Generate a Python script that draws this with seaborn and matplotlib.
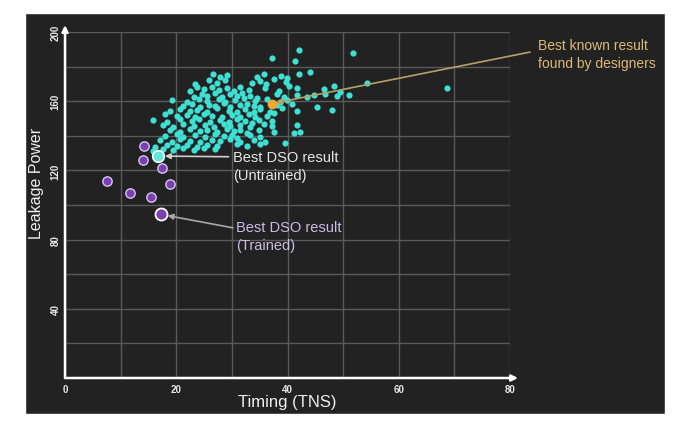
import numpy as np
import pandas as pd
import seaborn as sns
import matplotlib.pyplot as plt
from matplotlib.patches import Rectangle

# DSO runs (untrained): timing (TNS) and leakage power
tns = [
    42.0, 37.2, 41.4, 44.1, 42.0, 51.8, 54.3, 68.7,
    26.6, 27.9, 29.1, 34.5, 35.7, 38.8, 39.9,
    23.4, 25.8, 27.3, 28.8, 33.6, 35.1, 36.2, 37.5, 39.8, 40.2,
    22.5, 23.7, 24.9, 26.4, 27.6, 29.1, 30.3, 31.5, 33.0, 36.0, 38.4, 41.7, 46.5, 48.3, 49.5,
    23.1, 24.6, 25.5, 27.0, 28.2, 29.7, 30.9, 31.8, 33.3, 34.5, 38.1, 39.3, 41.7, 43.5, 44.7, 46.8, 48.9, 51.0,
    19.2, 21.9, 24.0, 25.5, 27.6, 28.8, 30.6, 32.1, 34.2, 36.3, 38.7, 39.9,
    21.3, 22.8, 24.3, 25.8, 27.0, 28.5, 29.7, 31.5, 32.7, 33.9, 35.1, 38.1, 39.0, 40.8, 45.3, 48.0,
    18.9, 20.7, 22.5, 23.7, 25.5, 27.3, 29.4, 30.9, 32.4, 33.9, 35.1, 36.9, 41.7,
    18.0, 20.1, 21.9, 23.4, 24.9, 26.4, 28.2, 30.0, 31.5, 33.0, 34.2, 36.3, 37.5,
    15.9, 18.3, 20.7, 22.8, 24.0, 26.1, 27.9, 29.4, 30.9, 32.4, 33.6, 34.8, 37.2,
    17.7, 19.5, 21.3, 23.1, 25.2, 26.7, 28.5, 29.7, 31.5, 33.3, 35.7, 37.2, 41.7,
    18.9, 20.7, 22.5, 24.3, 25.5, 27.3, 29.1, 30.3, 31.5, 32.7, 34.8, 37.5, 41.1, 42.3,
    18.0, 20.1, 21.3, 23.4, 25.2, 27.0, 28.5, 30.0, 30.9, 33.3, 35.1,
    17.1, 19.2, 20.7, 22.5, 24.3, 26.4, 27.9, 29.7, 31.5, 33.9, 36.0,
    16.2, 18.3, 20.1, 21.9, 23.7, 25.5, 27.3, 30.9, 32.7, 35.1, 39.6,
    15.9, 17.7, 19.5, 21.3, 23.1, 24.9, 27.0,
]
leak = [
    189.7, 184.9, 183.3, 177.1, 175.6, 187.9, 170.5, 167.6,
    175.8, 173.9, 175.3, 174.2, 176.0, 174.6, 173.5,
    170.2, 172.0, 170.8, 172.5, 170.5, 171.9, 169.8, 172.6, 170.9, 168.9,
    166.1, 168.0, 166.8, 168.4, 166.3, 167.7, 165.9, 168.2, 166.6, 167.4, 165.8, 167.9, 167.2, 168.6, 165.4,
    162.7, 164.4, 163.0, 164.8, 162.4, 163.9, 162.9, 164.6, 163.2, 162.1, 164.3, 162.6, 163.8, 162.3, 163.6, 164.1, 162.8, 163.3,
    160.9, 159.8, 161.4, 160.0, 161.1, 159.5, 160.8, 161.6, 159.9, 161.2, 159.6, 160.9,
    157.2, 158.5, 156.9, 158.0, 157.4, 158.9, 156.6, 157.9, 158.6, 157.0, 156.4, 157.8, 156.2, 158.3, 156.8, 155.2,
    154.3, 155.6, 154.1, 155.2, 153.8, 155.9, 154.5, 153.6, 155.4, 154.0, 155.7, 153.9, 154.6,
    152.6, 151.2, 152.3, 150.9, 152.8, 151.5, 150.6, 152.1, 151.0, 152.4, 150.8, 151.7, 152.9,
    149.4, 148.2, 149.6, 148.5, 149.9, 147.9, 149.1, 148.0, 149.8, 148.4, 147.6, 149.3, 148.7,
    146.5, 145.2, 146.8, 145.6, 146.2, 144.9, 146.9, 145.4, 146.4, 145.0, 146.6, 145.8, 146.1,
    143.6, 142.4, 143.9, 142.7, 143.3, 142.1, 143.8, 142.6, 143.4, 141.9, 143.1, 142.2, 141.5, 142.0,
    139.8, 140.9, 139.4, 140.6, 139.1, 140.8, 139.6, 140.3, 139.0, 140.5, 139.5,
    137.8, 136.7, 138.0, 137.0, 136.4, 137.6, 136.9, 137.9, 136.3, 137.4, 136.6,
    133.6, 134.9, 133.9, 134.6, 133.3, 134.8, 134.1, 135.0, 134.3, 135.2, 135.6,
    131.2, 132.4, 131.8, 132.7, 131.6, 132.9, 132.2,
]

# DSO runs (trained)
trained_tns = [14.2, 14.1, 17.5, 7.5, 18.8, 11.7, 15.5]
trained_leak = [134.3, 126.0, 121.2, 113.7, 111.9, 107.1, 104.6]

# highlighted results
best_untrained = (16.7, 128.3)
best_trained = (17.2, 94.6)
best_designer = (37.2, 158.6)

x_ticks = [0, 10, 20, 30, 40, 50, 60, 70, 80]
x_labels = ['0', '', '20', '', '40', '', '60', '', '80']
y_ticks = [0, 20, 40, 60, 80, 100, 120, 140, 160, 180, 200]
y_labels = ['', '', '40', '', '80', '', '120', '', '160', '', '200']

bg = '#222222'
sns.set_theme(style='dark')
plt.rcParams['font.family'] = ['Liberation Sans', 'DejaVu Sans']

fig = plt.figure(figsize=(6.73, 4.27), dpi=100)
fig.patch.set_facecolor('white')
fig.patches.append(Rectangle((25 / 673, 12 / 427), 640 / 673, 401 / 427,
                             transform=fig.transFigure, facecolor=bg, zorder=-1))
ax = fig.add_axes([0.0966, 0.1124, 0.6612, 0.8103])
ax.set_facecolor(bg)

df = pd.DataFrame({'tns': tns, 'leak': leak})
sns.scatterplot(data=df, x='tns', y='leak', ax=ax, color='#3fe0d4',
                s=20, linewidth=0, zorder=3)
sns.scatterplot(x=trained_tns, y=trained_leak, ax=ax, color='#7a3fb0',
                s=45, edgecolor='#d8c6f2', linewidth=1.0, zorder=4)
sns.scatterplot(x=[best_untrained[0]], y=[best_untrained[1]], ax=ax,
                color='#5fe8dc', s=70, edgecolor='white', linewidth=1.2, zorder=5)
sns.scatterplot(x=[best_trained[0]], y=[best_trained[1]], ax=ax,
                color='#7a3fb0', s=75, edgecolor='white', linewidth=1.3, zorder=5)
sns.scatterplot(x=[best_designer[0]], y=[best_designer[1]], ax=ax,
                color='#f0a830', s=50, linewidth=0, zorder=5)

ax.set_xlim(0, 80)
ax.set_ylim(0, 200)
ax.set_xticks(x_ticks)
ax.set_xticklabels(x_labels)
ax.set_yticks(y_ticks)
ax.set_yticklabels(y_labels, rotation=90, va='center')
ax.tick_params(axis='both', length=0, colors='#e8e8e8', labelsize=7)
ax.tick_params(axis='x', pad=4)
ax.tick_params(axis='y', pad=3)
for lab in ax.get_xticklabels() + ax.get_yticklabels():
    lab.set_fontweight('bold')
ax.grid(True, color='#5a5a5a', linewidth=1)
for sp in ax.spines.values():
    sp.set_visible(False)

# axis lines with arrow heads
ax.annotate('', xy=(0, 1.02), xytext=(0, 0), xycoords='axes fraction',
            arrowprops=dict(arrowstyle='-|>', color='white', lw=1.8, mutation_scale=9,
                            shrinkA=0, shrinkB=0), annotation_clip=False)
ax.annotate('', xy=(1.018, 0), xytext=(0, 0), xycoords='axes fraction',
            arrowprops=dict(arrowstyle='-|>', color='white', lw=1.8, mutation_scale=9,
                            shrinkA=0, shrinkB=0), annotation_clip=False)

ax.set_xlabel('Timing (TNS)', color='#eeeeee', fontsize=12, labelpad=0)
ax.set_ylabel('Leakage Power', color='#eeeeee', fontsize=11.5)
ax.yaxis.set_label_coords(-0.047, 0.566)

# annotations
ax.annotate('', xy=best_designer, xytext=(83.6, 188.4),
            arrowprops=dict(arrowstyle='-|>', color='#b3a26a', lw=1.2, mutation_scale=8,
                            shrinkA=0, shrinkB=3), annotation_clip=False)
ax.text(85.0, 187.5, 'Best known result\nfound by designers', color='#dcb878',
        fontsize=10, ha='left', va='center', linespacing=1.35)

ax.annotate('', xy=best_untrained, xytext=(29.4, 127.9),
            arrowprops=dict(arrowstyle='-|>', color='#cfcfcf', lw=1.2, mutation_scale=8,
                            shrinkA=0, shrinkB=5))
ax.text(30.2, 122.5, 'Best DSO result\n(Untrained)', color='#e6e6e6',
        fontsize=10.5, ha='left', va='center', linespacing=1.3)

ax.annotate('', xy=best_trained, xytext=(30.2, 86.8),
            arrowprops=dict(arrowstyle='-|>', color='#a9a9a9', lw=1.2, mutation_scale=8,
                            shrinkA=0, shrinkB=5))
ax.text(30.8, 82.0, 'Best DSO result\n(Trained)', color='#c9bde0',
        fontsize=10.5, ha='left', va='center', linespacing=1.3)

fig.savefig('out.png', dpi=100, facecolor=fig.get_facecolor())
